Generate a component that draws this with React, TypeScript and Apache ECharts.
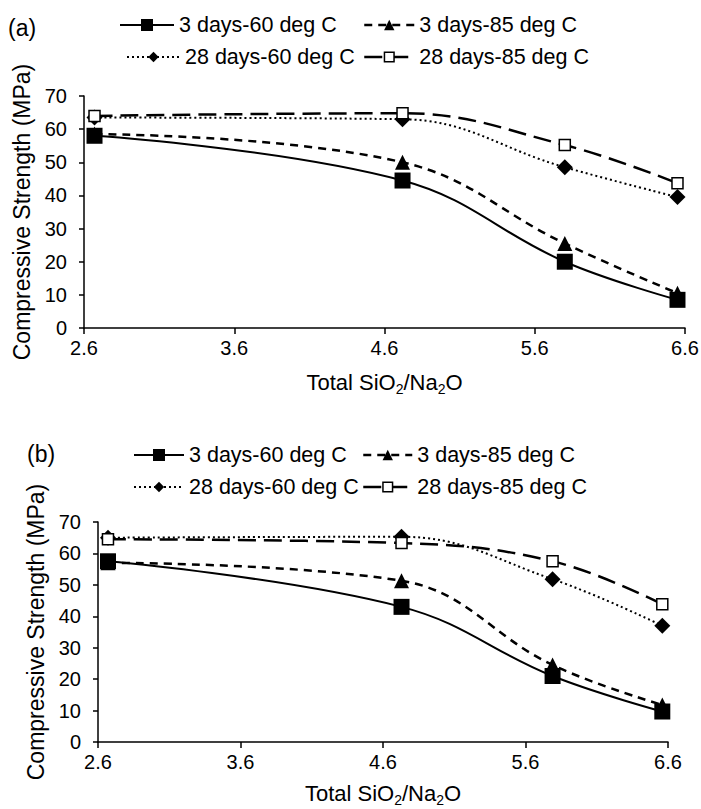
import React, { useEffect, useRef } from "react";
import * as echarts from "echarts";

// ---- data ----
const seriesNames = ["3 days-60 deg C", "3 days-85 deg C", "28 days-60 deg C", "28 days-85 deg C"];

const xA = [2.67, 4.72, 5.8, 6.55];
const a3d60 = [58, 44.5, 20, 8.5];
const a3d85 = [58.5, 50, 25.5, 10.5];
const a28d60 = [63.5, 63, 48.5, 39.5];
const a28d85 = [64, 64.8, 55.2, 43.7];

const xB = [2.67, 4.73, 5.79, 6.56];
const b3d60 = [57.5, 43, 21, 9.7];
const b3d85 = [57, 51.3, 24.5, 11.8];
const b28d60 = [65, 65.3, 51.8, 37];
const b28d85 = [64.5, 63.3, 57.5, 43.8];

const xTicks = [2.6, 3.6, 4.6, 5.6, 6.6];
const yMin = 0;
const yMax = 70;
const yStep = 10;

const FONT = '"Liberation Sans", Arial, sans-serif';

const styles = [
  { symbol: "rect", symbolSize: 16, lineType: "solid" as any, width: 2, fill: "#000", border: 0, legendH: 15 },
  { symbol: "triangle", symbolSize: 15, lineType: [8, 6] as any, width: 2.5, fill: "#000", border: 0, legendH: 13 },
  { symbol: "diamond", symbolSize: 16, lineType: [2, 3] as any, width: 2, fill: "#000", border: 0, legendH: 13 },
  { symbol: "rect", symbolSize: 11, lineType: [18, 8] as any, width: 2.5, fill: "#fff", border: 1.5, legendH: 12 },
];

type Panel = {
  label: string;
  labelLeft: number;
  labelTop: number;
  x: number[];
  ys: number[][];
  grid: { left: number; right: number; top: number; height: number };
  legendPos: number[][];
  yNameGap: number;
  xNameGap: number;
};

const panelA: Panel = {
  label: "(a)",
  labelLeft: 8,
  labelTop: 16,
  x: xA,
  ys: [a3d60, a3d85, a28d60, a28d85],
  grid: { left: 84, right: 16, top: 96, height: 232 },
  legendPos: [[119, 14, 54], [363, 14, 50], [126, 46, 53], [363, 46, 50]],
  yNameGap: 50,
  xNameGap: 40,
};

const panelB: Panel = {
  label: "(b)",
  labelLeft: 27,
  labelTop: 37,
  x: xB,
  ys: [b3d60, b3d85, b28d60, b28d85],
  grid: { left: 98, right: 33, top: 117, height: 220 },
  legendPos: [[133, 39, 50], [362, 39, 49], [133, 71, 50], [362, 71, 49]],
  yNameGap: 50,
  xNameGap: 37,
};

function buildOption(p: Panel): any {
  const series = seriesNames.map((name, i) => {
    const s = styles[i];
    return {
      name,
      type: "line",
      smooth: 0.4,
      data: p.x.map((xv, j) => [xv, p.ys[i][j]]),
      symbol: s.symbol,
      symbolSize: s.symbolSize,
      z: 2 + i,
      lineStyle: { color: "#000", width: s.width, type: s.lineType },
      itemStyle: { color: s.fill, borderColor: "#000", borderWidth: s.border, opacity: 1 },
      emphasis: { disabled: true },
    };
  });

  const legends = seriesNames.map((name, i) => {
    const s = styles[i];
    const [left, top, w] = p.legendPos[i];
    return {
      data: [name],
      left,
      top,
      padding: 0,
      itemGap: 0,
      itemWidth: w,
      itemHeight: s.legendH,
      selectedMode: false,
      textStyle: { fontSize: 21.5, color: "#000", fontFamily: FONT },
      lineStyle: { width: s.width, color: "#000" },
      itemStyle: { color: s.fill, borderColor: "#000", borderWidth: s.border },
    };
  });

  return {
    animation: false,
    backgroundColor: "#fff",
    title: {
      text: p.label,
      left: p.labelLeft,
      top: p.labelTop,
      padding: 0,
      textStyle: { fontSize: 23, fontWeight: "normal", color: "#000", fontFamily: FONT },
    },
    legend: legends,
    grid: {
      left: p.grid.left,
      right: p.grid.right,
      top: p.grid.top,
      height: p.grid.height,
      outerBoundsMode: "none",
    },
    xAxis: {
      type: "value",
      min: xTicks[0],
      max: xTicks[xTicks.length - 1],
      name: "Total SiO{sub|2}/Na{sub|2}O",
      nameLocation: "middle",
      nameGap: p.xNameGap,
      nameTextStyle: {
        fontSize: 22,
        color: "#000",
        fontFamily: FONT,
        lineHeight: 24,
        rich: { sub: { fontSize: 14, lineHeight: 28, verticalAlign: "bottom", color: "#000", fontFamily: FONT } },
      },
      axisLine: { show: true, lineStyle: { color: "#000", width: 1.5 } },
      axisTick: { show: true, length: 6, lineStyle: { color: "#000", width: 1.5 }, customValues: xTicks },
      axisLabel: {
        customValues: xTicks,
        formatter: (v: number) => v.toFixed(1),
        fontSize: 20,
        color: "#000",
        fontFamily: FONT,
        margin: 10,
      },
      splitLine: { show: false },
    },
    yAxis: {
      type: "value",
      min: yMin,
      max: yMax,
      interval: yStep,
      name: "Compressive Strength (MPa)",
      nameLocation: "middle",
      nameGap: p.yNameGap,
      nameTextStyle: { fontSize: 23, color: "#000", fontFamily: FONT },
      axisLine: { show: true, lineStyle: { color: "#000", width: 1.5 } },
      axisTick: { show: true, length: 5, lineStyle: { color: "#000", width: 1.5 } },
      axisLabel: { fontSize: 20, color: "#000", fontFamily: FONT, margin: 17 },
      splitLine: { show: false },
    },
    series,
  };
}

export default function App() {
  const refA = useRef<HTMLDivElement>(null);
  const refB = useRef<HTMLDivElement>(null);
  useEffect(() => {
    const ca = echarts.init(refA.current!, null, { renderer: "svg" });
    const cb = echarts.init(refB.current!, null, { renderer: "svg" });
    ca.setOption(buildOption(panelA));
    cb.setOption(buildOption(panelB));
    return () => {
      ca.dispose();
      cb.dispose();
    };
  }, []);
  return (
    <div style={{ position: "absolute", left: 0, top: 0, width: 701, height: 809, background: "#fff" }}>
      <div ref={refA} style={{ position: "absolute", left: 0, top: 0, width: 701, height: 405 }} />
      <div ref={refB} style={{ position: "absolute", left: 0, top: 405, width: 701, height: 404 }} />
    </div>
  );
}
